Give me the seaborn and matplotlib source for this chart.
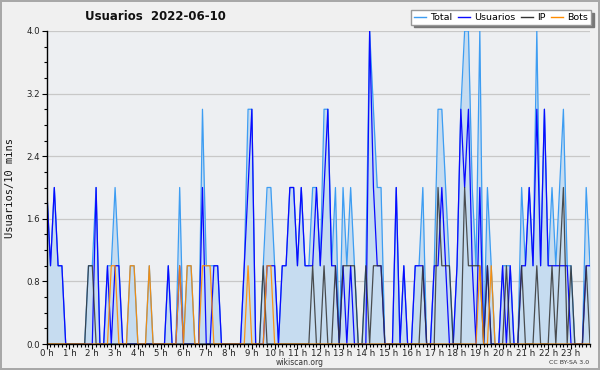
import numpy as np
import pandas as pd
import matplotlib
matplotlib.use("Agg")
import matplotlib.pyplot as plt
import seaborn as sns
from matplotlib.ticker import FixedLocator, MultipleLocator
from matplotlib.lines import Line2D

# ---- data (10-minute slots, 144 per day) ----
total = [2,1,2,1,1,0,0,0,0,0, 0,1,1,2,0,0,1,1,2,1,
         0,0,1,1,0,0,0,1,0,0, 0,0,1,0,0,2,0,1,1,0,
         0,3,1,1,1,1,0,0,0,0, 0,0,1,3,3,0,0,1,2,2,
         1,0,1,1,2,2,1,2,1,1, 2,2,1,3,3,1,2,0,2,1,
         2,1,0,0,1,4,3,2,2,0, 0,0,2,0,1,0,0,1,1,2,
         0,0,1,3,3,2,1,0,1,3, 4,4,2,1,4,0,2,1,0,0,
         1,1,1,0,0,2,1,2,1,4, 1,3,1,2,1,2,3,1,1,0,
         0,0,2,1]
usuarios = [2,1,2,1,1,0,0,0,0,0, 0,0,0,2,0,0,1,0,1,1,
            0,0,0,0,0,0,0,0,0,0, 0,0,1,0,0,1,0,0,0,0,
            0,2,0,0,1,1,0,0,0,0, 0,0,1,2,3,0,0,0,1,1,
            1,0,1,1,2,2,1,2,1,1, 1,2,1,2,3,1,1,0,1,0,
            1,0,0,0,0,4,2,1,1,0, 0,0,2,0,1,0,0,1,1,1,
            0,0,1,1,2,1,0,0,1,3, 2,3,1,0,2,0,1,0,0,0,
            1,0,1,0,0,1,1,2,1,3, 1,3,1,1,1,1,1,1,0,0,
            0,0,1,1]
ip = [0,0,0,0,0,0,0,0,0,0, 0,1,1,0,0,0,0,0,0,0,
      0,0,0,0,0,0,0,0,0,0, 0,0,0,0,0,0,0,0,0,0,
      0,0,0,0,0,0,0,0,0,0, 0,0,0,0,0,0,0,1,0,0,
      0,0,0,0,0,0,0,0,0,0, 1,0,0,1,0,0,1,0,1,1,
      1,1,0,0,1,0,1,1,1,0, 0,0,0,0,0,0,0,0,0,1,
      0,0,0,2,1,1,1,0,0,0, 2,1,1,1,1,0,1,0,0,0,
      0,1,0,0,0,1,0,0,0,1, 0,0,0,1,0,1,2,0,1,0,
      0,0,1,0]
bots = [0,0,0,0,0,0,0,0,0,0, 0,0,0,0,0,0,0,1,1,0,
        0,0,1,1,0,0,0,1,0,0, 0,0,0,0,0,1,0,1,1,0,
        0,1,1,1,0,0,0,0,0,0, 0,0,0,1,0,0,0,0,1,1,
        0,0,0,0,0,0,0,0,0,0, 0,0,0,0,0,0,0,0,0,0,
        0,0,0,0,0,0,0,0,0,0, 0,0,0,0,0,0,0,0,0,0,
        0,0,0,0,0,0,0,0,0,0, 0,0,0,0,1,0,0,1,0,0,
        0,0,0,0,0,0,0,0,0,0, 0,0,0,0,0,0,0,0,0,0,
        0,0,0,0]
hour_labels = [f"{h} h" for h in range(24)]
y_ticks = [0.0, 0.8, 1.6, 2.4, 3.2, 4.0]

slot = np.arange(len(total))
df = pd.DataFrame({"slot": slot, "Total": total, "Usuarios": usuarios,
                   "IP": ip, "Bots": bots})

c_total = "#3d9df2"
c_fill = "#c6dcf0"
c_user = "#0a0aff"
c_ip = "#333333"
c_bots = "#ff8c00"

fig = plt.figure(figsize=(6, 3.7), dpi=100, facecolor="#f0f0f0",
                 edgecolor="#a8a8a8", linewidth=1.5)
ax = fig.add_axes([46.7/600, 1-344/370, (590-46.7)/600, (344-31)/370])
ax.set_facecolor("#edeff2")

ax.fill_between(df["slot"], df["Total"], 0, color=c_fill, lw=0, zorder=1)
sns.lineplot(data=df, x="slot", y="Total", color=c_total, lw=0.9, ax=ax, zorder=3)
sns.lineplot(data=df, x="slot", y="Usuarios", color=c_user, lw=0.9, ax=ax, zorder=4)
sns.lineplot(data=df, x="slot", y="IP", color=c_ip, lw=0.9, alpha=0.85, ax=ax, zorder=5)
sns.lineplot(data=df, x="slot", y="Bots", color=c_bots, lw=0.9, alpha=0.9, ax=ax, zorder=6)

ax.set_xlim(0, len(total) - 1)
ax.set_ylim(0, 4.0)
ax.set_xlabel("")
ax.set_ylabel("")

ax.xaxis.set_major_locator(FixedLocator(np.arange(0, 144, 6)))
ax.set_xticklabels(hour_labels)
ax.xaxis.set_minor_locator(MultipleLocator(1))
ax.yaxis.set_major_locator(FixedLocator(y_ticks))
ax.set_yticklabels([f"{v:.1f}" for v in y_ticks])
ax.yaxis.set_minor_locator(MultipleLocator(0.2))

ax.tick_params(axis="both", which="major", direction="out", length=3.5, width=0.8,
               color="black", labelsize=6.2, labelcolor="#222222")
ax.tick_params(axis="x", which="major", pad=0.3)
ax.tick_params(axis="y", which="major", pad=1.5)
ax.tick_params(axis="both", which="minor", direction="out", length=2, width=0.8,
               color="black")

ax.grid(axis="y", which="major", color="#c8c8c8", lw=0.9, zorder=0)
ax.set_axisbelow(True)
for s in ["top", "right"]:
    ax.spines[s].set_visible(False)
for s in ["left", "bottom"]:
    ax.spines[s].set_color("black")
    ax.spines[s].set_linewidth(1.0)
    ax.spines[s].set_zorder(7)

fig.text(85/600, 1-16/370, "Usuarios  2022-06-10", fontsize=8.5,
         fontweight="bold", ha="left", va="center", color="#111111")
fig.text(10/600, 0.493, "Usuarios/10 mins", rotation=90, fontsize=7.5,
         family="DejaVu Sans Mono", ha="center", va="center", color="#111111")
fig.text(300/600, 1-362.5/370, "wikiscan.org", fontsize=5.5, ha="center",
         va="center", color="#333333")
fig.text(589/600, 1-362.5/370, "CC BY-SA 3.0", fontsize=4.5, ha="right",
         va="center", color="#333333")

handles = [Line2D([], [], color=c_total, lw=1),
           Line2D([], [], color=c_user, lw=1),
           Line2D([], [], color=c_ip, lw=1),
           Line2D([], [], color=c_bots, lw=1)]
leg = fig.legend(handles, ["Total", "Usuarios", "IP", "Bots"], ncol=4,
                 loc="upper right", bbox_to_anchor=(591/600, 1-10/370),
                 fontsize=6.8, frameon=True, fancybox=False,
                 shadow={"color": "#777777", "alpha": 1.0},
                 handlelength=1.3, handletextpad=0.45, columnspacing=0.55,
                 borderpad=0.3, borderaxespad=0)
leg.get_frame().set_facecolor("white")
leg.get_frame().set_edgecolor("#999999")
leg.get_frame().set_linewidth(1.0)

fig.savefig("out.png", dpi=100, facecolor=fig.get_facecolor(),
            edgecolor=fig.get_edgecolor())
